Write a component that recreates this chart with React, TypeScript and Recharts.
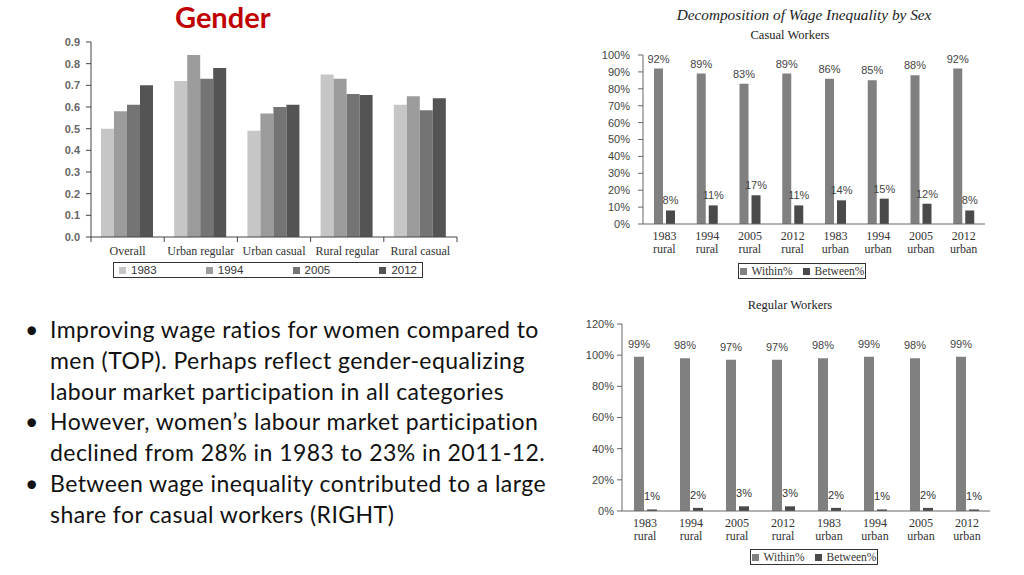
import React from 'react'
import {
  BarChart, Bar, XAxis, YAxis, Legend, LabelList,
} from 'recharts'

// ---- Gender wage ratio chart (top left)
const genderCategories = ['Overall', 'Urban regular', 'Urban casual', 'Rural regular', 'Rural casual']
const genderYears = ['1983', '1994', '2005', '2012']
const ratio1983 = [0.50, 0.72, 0.49, 0.75, 0.61]
const ratio1994 = [0.58, 0.84, 0.57, 0.73, 0.65]
const ratio2005 = [0.61, 0.73, 0.60, 0.66, 0.585]
const ratio2012 = [0.70, 0.78, 0.61, 0.655, 0.64]
const ratioTicks = [0, 0.1, 0.2, 0.3, 0.4, 0.5, 0.6, 0.7, 0.8, 0.9]

// ---- Decomposition charts (right)
const decompCategories = [
  '1983 rural', '1994 rural', '2005 rural', '2012 rural',
  '1983 urban', '1994 urban', '2005 urban', '2012 urban',
]
const decompSeries = ['Within%', 'Between%']
const casualWithin = [92, 89, 83, 89, 86, 85, 88, 92]
const casualBetween = [8, 11, 17, 11, 14, 15, 12, 8]
const casualTicks = [0, 10, 20, 30, 40, 50, 60, 70, 80, 90, 100]
const regularWithin = [99, 98, 97, 97, 98, 99, 98, 99]
const regularBetween = [1, 2, 3, 3, 2, 1, 2, 1]
const regularTicks = [0, 20, 40, 60, 80, 100, 120]

const bullets = [
  ['Improving wage ratios for women compared to', 'men (TOP). Perhaps reflect gender-equalizing', 'labour market participation in all categories'],
  ['However, women\u2019s labour market participation', 'declined from 28% in 1983 to 23% in 2011-12.'],
  ['Between wage inequality contributed to a large', 'share for casual workers (RIGHT)'],
]

const genderData = genderCategories.map((c, i) => ({
  cat: c, y1983: ratio1983[i], y1994: ratio1994[i], y2005: ratio2005[i], y2012: ratio2012[i],
}))
const casualData = decompCategories.map((c, i) => ({ cat: c, within: casualWithin[i], between: casualBetween[i] }))
const regularData = decompCategories.map((c, i) => ({ cat: c, within: regularWithin[i], between: regularBetween[i] }))

const SERIF = '"Liberation Serif", "DejaVu Serif", serif'
const SANS = '"Liberation Sans", Arial, sans-serif'
const SLIDE = 'Lato, "Open Sans", sans-serif'

const WITHIN = '#808080'
const BETWEEN = '#4a4a4a'

const TwoLineTick = (props: any) => {
  const { x, y, payload } = props
  const [yr, area] = String(payload.value).split(' ')
  return (
    <text x={x} y={y} textAnchor="middle" fontFamily={SERIF} fontSize={12} fill="#333">
      <tspan x={x} dy={8}>{yr}</tspan>
      <tspan x={x} dy={13}>{area}</tspan>
    </text>
  )
}

// category label with boundary tick marks like the source figure
const GENDER_BAND = (457 - 91) / genderCategories.length
const GenderTick = (props: any) => {
  const { x, y, payload, index } = props
  const axisY = y - 8
  return (
    <g>
      <line x1={x - GENDER_BAND / 2} x2={x - GENDER_BAND / 2} y1={axisY} y2={axisY + 5} stroke="#444" />
      {index === genderCategories.length - 1 && (
        <line x1={x + GENDER_BAND / 2} x2={x + GENDER_BAND / 2} y1={axisY} y2={axisY + 5} stroke="#444" />
      )}
      <text x={x} y={y} dy={10} textAnchor="middle" fontFamily={SERIF} fontSize={12} fill="#333">
        {payload.value}
      </text>
    </g>
  )
}

const BoxLegend = ({ payload, spread, font, size }: any) => (
  <div style={{
    border: '1px solid #333', height: 16, display: 'flex', alignItems: 'center',
    justifyContent: spread ? 'space-between' : 'center', gap: spread ? 0 : 10,
    padding: spread ? '0 5px' : 0,
    fontFamily: font, fontSize: size, color: '#333', boxSizing: 'border-box', background: '#fff',
  }}>
    {(payload || []).map((p: any) => (
      <span key={p.value} style={{ display: 'flex', alignItems: 'center', gap: 5 }}>
        <span style={{ width: 7, height: 7, background: p.color, display: 'inline-block' }} />
        {p.value}
      </span>
    ))}
  </div>
)

const pctLabel = (v: any) => `${v}%`
const byYear = (item: any) => genderYears.indexOf(item.value)
const bySeries = (item: any) => decompSeries.indexOf(item.value)

export default function App() {
  return (
    <div style={{ position: 'absolute', left: 0, top: 0, width: 1024, height: 575, background: '#fff', overflow: 'hidden' }}>
      <div style={{
        position: 'absolute', left: 175, top: -1, fontFamily: SLIDE, fontWeight: 700,
        fontSize: 29, color: '#c00000', lineHeight: '36px',
      }}>Gender</div>

      <div style={{ position: 'absolute', left: 0, top: 0 }}>
        <BarChart width={470} height={285} data={genderData}
          margin={{ top: 42, right: 13, bottom: 18, left: 56 }} barGap={0} barCategoryGap={10}>
          <XAxis dataKey="cat" height={30} tickLine={false} stroke="#444" interval={0} tick={<GenderTick />} />
          <YAxis width={35} domain={[0, 0.9]} ticks={ratioTicks} stroke="#444" interval={0}
            tickFormatter={(v: number) => v.toFixed(1)}
            tick={{ fontFamily: SANS, fontSize: 11, fontWeight: 700, fill: '#666' }} tickSize={5} tickMargin={6} />
          <Legend verticalAlign="middle" align="center" layout="horizontal" itemSorter={byYear}
            wrapperStyle={{ top: 262, left: 113, width: 310 }}
            content={(p: any) => <BoxLegend {...p} spread font={SANS} size={11.5} />} />
          <Bar dataKey="y1983" name="1983" fill="#c6c6c6" isAnimationActive={false} />
          <Bar dataKey="y1994" name="1994" fill="#9c9c9c" isAnimationActive={false} />
          <Bar dataKey="y2005" name="2005" fill="#747474" isAnimationActive={false} />
          <Bar dataKey="y2012" name="2012" fill="#545454" isAnimationActive={false} />
        </BarChart>
      </div>

      <div style={{
        position: 'absolute', left: 18, top: 314, fontFamily: SLIDE, fontSize: 23,
        letterSpacing: 0.45, color: '#111', lineHeight: '30.8px',
      }}>
        {bullets.map((lines, i) => (
          <div key={i} style={{ position: 'relative', paddingLeft: 32 }}>
            <span style={{ position: 'absolute', left: 7 }}>{'\u2022'}</span>
            {lines.map((l, j) => <div key={j} style={{ whiteSpace: 'nowrap' }}>{l}</div>)}
          </div>
        ))}
      </div>

      <div style={{ position: 'absolute', left: 590, top: 6, width: 428, textAlign: 'center', fontFamily: SERIF, fontStyle: 'italic', fontSize: 15.3, color: '#222' }}>
        Decomposition of Wage Inequality by Sex
      </div>
      <div style={{ position: 'absolute', left: 590, top: 28, width: 400, textAlign: 'center', fontFamily: SERIF, fontSize: 12.5, color: '#222' }}>
        Casual Workers
      </div>
      <div style={{ position: 'absolute', left: 590, top: 40 }}>
        <BarChart width={410} height={245} data={casualData}
          margin={{ top: 15, right: 15, bottom: 29, left: 3 }} barGap={3}>
          <XAxis dataKey="cat" height={32} tickLine={false} stroke="#666" interval={0} tick={<TwoLineTick />} />
          <YAxis width={50} domain={[0, 100]} ticks={casualTicks} stroke="#666" interval={0}
            tickFormatter={pctLabel} tickSize={5} tickMargin={8}
            tick={{ fontFamily: SANS, fontSize: 11, fill: '#444' }} />
          <Legend verticalAlign="middle" align="center" layout="horizontal" itemSorter={bySeries}
            wrapperStyle={{ top: 223, left: 148, width: 128 }}
            content={(p: any) => <BoxLegend {...p} font={SERIF} size={11.5} />} />
          <Bar dataKey="within" name="Within%" fill={WITHIN} barSize={9} isAnimationActive={false}>
            <LabelList dataKey="within" position="top" offset={6} formatter={pctLabel}
              style={{ fontFamily: SANS, fontSize: 11, fill: '#444' }} />
          </Bar>
          <Bar dataKey="between" name="Between%" fill={BETWEEN} barSize={9} isAnimationActive={false}>
            <LabelList dataKey="between" position="top" offset={6} formatter={pctLabel}
              style={{ fontFamily: SANS, fontSize: 11, fill: '#444' }} />
          </Bar>
        </BarChart>
      </div>

      <div style={{ position: 'absolute', left: 580, top: 298, width: 420, textAlign: 'center', fontFamily: SERIF, fontSize: 12.5, color: '#222' }}>
        Regular Workers
      </div>
      <div style={{ position: 'absolute', left: 580, top: 310 }}>
        <BarChart width={430} height={262} data={regularData}
          margin={{ top: 14, right: 20, bottom: 29, left: 2 }} barGap={3}>
          <XAxis dataKey="cat" height={32} tickLine={false} stroke="#666" interval={0} tick={<TwoLineTick />} />
          <YAxis width={40} domain={[0, 120]} ticks={regularTicks} stroke="#666" interval={0}
            tickFormatter={pctLabel} tickSize={5} tickMargin={3}
            tick={{ fontFamily: SANS, fontSize: 11, fill: '#444' }} />
          <Legend verticalAlign="middle" align="center" layout="horizontal" itemSorter={bySeries}
            wrapperStyle={{ top: 239, left: 170, width: 128 }}
            content={(p: any) => <BoxLegend {...p} font={SERIF} size={11.5} />} />
          <Bar dataKey="within" name="Within%" fill={WITHIN} barSize={10} isAnimationActive={false}>
            <LabelList dataKey="within" position="top" offset={9} formatter={pctLabel}
              style={{ fontFamily: SANS, fontSize: 11, fill: '#444' }} />
          </Bar>
          <Bar dataKey="between" name="Between%" fill={BETWEEN} barSize={10} isAnimationActive={false}>
            <LabelList dataKey="between" position="top" offset={9} formatter={pctLabel}
              style={{ fontFamily: SANS, fontSize: 11, fill: '#333' }} />
          </Bar>
        </BarChart>
      </div>
    </div>
  )
}
